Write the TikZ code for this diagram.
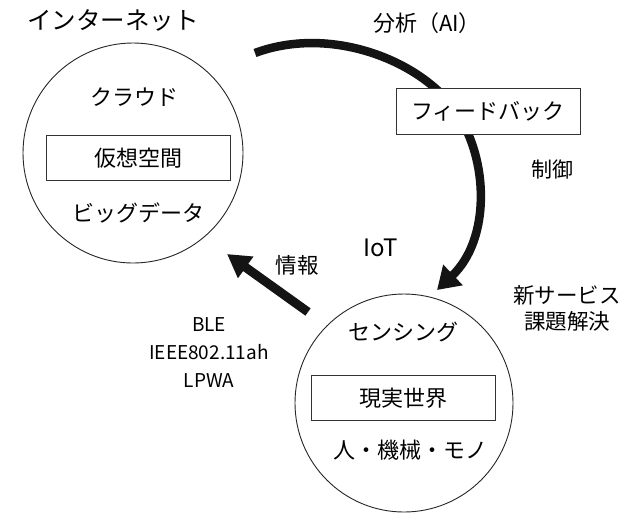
\documentclass[tikz,border=0pt]{standalone}
\usepackage{fontspec}
\setmainfont{Noto Sans CJK JP}
\usetikzlibrary{arrows.meta}
\tikzset{
  lbl/.style={inner sep=0pt, text=black, font=\fontsize{22pt}{26pt}\selectfont},
  bigarrow/.style={line width=8.5pt, draw=black!92},
  ring/.style={circle, draw=black!85, line width=0.9pt, inner sep=0pt},
  frame/.style={draw=black!80, line width=0.9pt, fill=white, inner sep=0pt,
    minimum width=184pt, minimum height=45pt, text=black,
    font=\fontsize{22pt}{26pt}\selectfont},
}
\begin{document}
\begin{tikzpicture}[x=1pt, y=-1pt]
\useasboundingbox (0,0) rectangle (623,512);
% circles
\node[ring, minimum size=220pt] (cloudring) at (133,153) {};
\node[ring, minimum size=218pt] (realring) at (404,403) {};
% big feedback arc
\coordinate (arcstart) at (255,53);
\coordinate (arcmid) at (455,110);
\coordinate (arctip) at (437,290);
\draw[bigarrow, -{Triangle[length=22pt,width=27pt]}]
  (arcstart) .. controls (330,25) and (420,60) .. (arcmid)
  .. controls (490,160) and (490,240) .. (arctip);
% info arrow
\coordinate (infotail) at (308,312);
\coordinate (infotip) at (227,254);
\draw[line width=9pt, draw=black!92, -{Triangle[length=23pt,width=25pt]}] (infotail) -- (infotip);
% texts
\node[lbl, font=\fontsize{24.5pt}{30pt}\selectfont] (internet) at (113,20) {インターネット};
\node[lbl] (cloud) at (134,97) {クラウド};
\node[frame] (virtual) at (138,158) {仮想空間};
\node[lbl] (bigdata) at (138,213) {ビッグデータ};
\node[lbl, font=\fontsize{22pt}{26pt}\selectfont] (analysis) at (427,23) {分析（AI）};
\node[frame, minimum height=46pt] (feedback) at (488,111) {フィードバック};
\node[lbl, font=\fontsize{21pt}{25pt}\selectfont] (control) at (552,170) {制御};
\node[lbl, font=\fontsize{24pt}{30pt}\selectfont] (iot) at (381,248) {IoT};
\node[lbl, font=\fontsize{21.5pt}{25pt}\selectfont] (info) at (297,265) {情報};
\node[lbl, align=center, font=\fontsize{19pt}{28pt}\selectfont] (wireless) at (209,353) {BLE\\IEEE802.11ah\\LPWA};
\node[lbl, align=center, font=\fontsize{21.5pt}{26pt}\selectfont] (service) at (567,308) {新サービス\\課題解決};
\node[lbl] (sensing) at (403,332) {センシング};
\node[frame] (real) at (403,398) {現実世界};
\node[lbl] (things) at (410,450) {人・機械・モノ};
\end{tikzpicture}
\end{document}
